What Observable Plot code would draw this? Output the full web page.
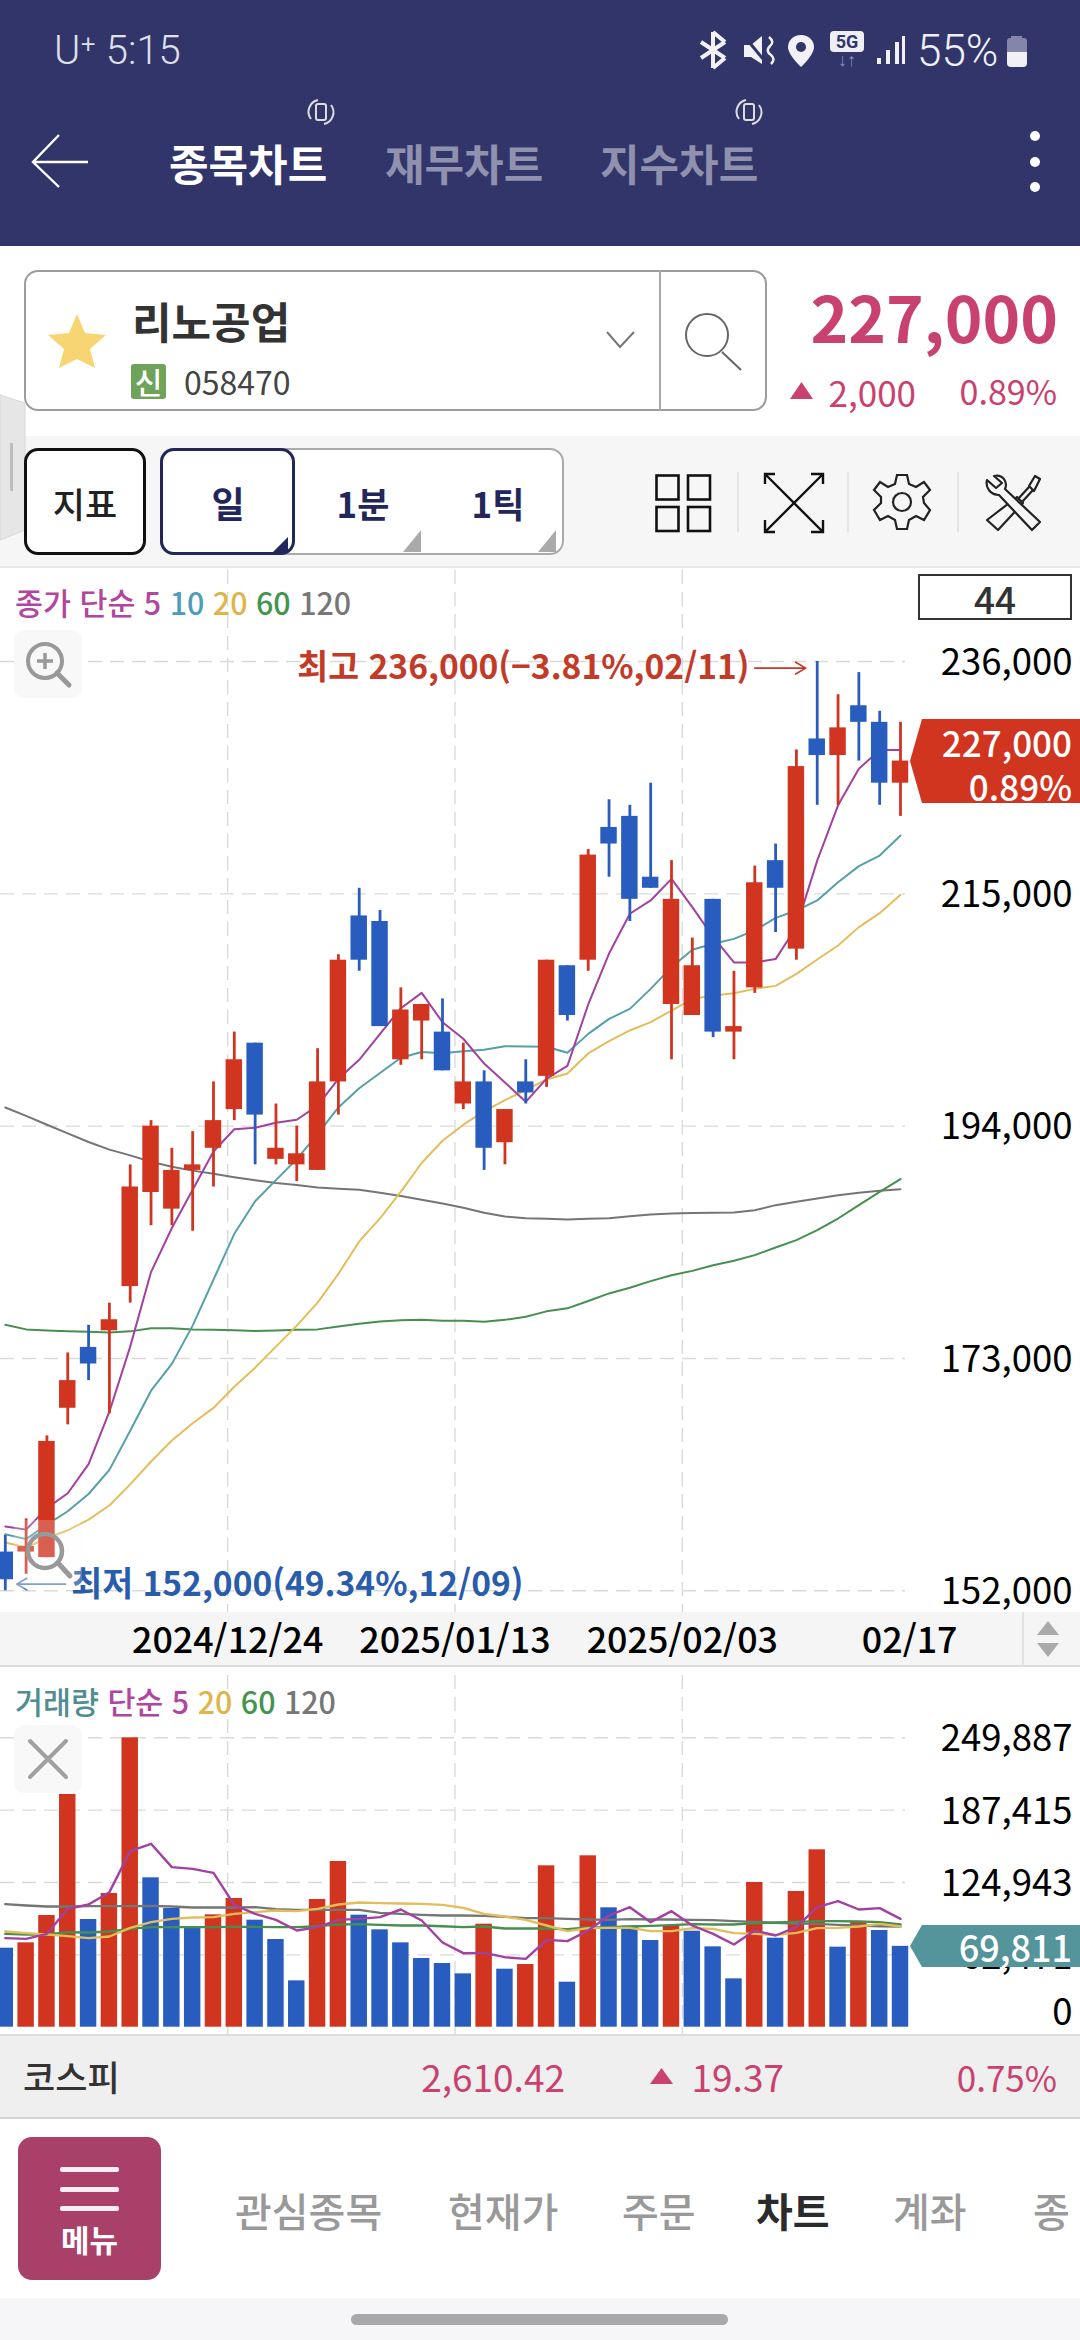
<!DOCTYPE html>
<html lang="ko">
<head>
<meta charset="utf-8">
<script src="https://cdn.jsdelivr.net/npm/d3@7"></script>
<script src="https://cdn.jsdelivr.net/npm/@observablehq/plot@0.6"></script>
<style>
html,body{margin:0;padding:0;background:#fff;}
#page{position:relative;width:1080px;height:2340px;overflow:hidden;font-family:"Noto Sans CJK KR","Noto Sans",sans-serif;background:#fff;}
.box{position:absolute;box-sizing:border-box;}
.t{position:absolute;white-space:nowrap;line-height:1;transform:translateY(-50%);}
.plot{position:absolute;left:0;}
.plot svg{display:block;overflow:visible;}
svg.ic{position:absolute;overflow:visible;}
</style>
</head>
<body>
<div id="page"></div>
<script>
// ---------- candle data (12/09 .. 02/17) ----------
const opens=[155500,155500,155000,168500,174000,175500,179500,188000,186500,190000,192000,195500,201500,191000,190500,190000,198000,213000,212500,200000,203500,202500,196000,198000,192500,198000,198500,208500,209000,221000,222000,216500,205000,204000,214500,202500,206500,218000,210000,229000,227500,232000,230500,225000];
const closes=[153000,156000,165500,171000,172500,176500,188500,194000,190000,190500,194500,200000,195000,192000,191500,198000,209000,209000,203000,204500,205000,199000,198000,192000,195500,197000,209000,204000,218500,219500,214500,215500,214500,208500,202500,203000,216000,215500,226500,227500,230000,230500,225000,227000];
const highs=[157000,158500,166000,173500,176000,178000,190500,194500,192000,193500,198000,202500,201500,196000,194000,201000,209500,215500,213500,206500,205000,205500,201500,199000,195500,200000,209000,208500,219000,223500,223000,225000,218000,211000,214500,208000,217500,219500,228000,236000,233000,235000,231500,230500];
const lows=[152000,153500,155000,167000,171000,168000,178000,185000,185000,184500,188500,194500,190500,190500,189000,190000,195000,208000,203000,199500,200000,199000,195500,190000,190500,196000,197500,203500,208000,216500,212500,215500,200000,204000,202000,200000,206000,211500,209000,223000,223000,227000,223000,222000];
// ---------- price moving averages ----------
const ma5=[157810,157530,159470,160820,163450,168190,174070,180810,184790,188250,191710,193720,193850,194300,194580,195860,198280,200000,202350,204660,206050,203400,201900,199660,197940,196200,198300,199450,205000,209600,213200,214400,216350,213800,211100,208800,208800,209100,212000,218000,223000,226300,228000,228000];
const ma10=[157120,156670,157980,159190,160750,162930,166460,170090,172510,175970,180120,184270,187210,189120,191020,193270,195690,197420,198800,200180,200700,200600,200770,200910,201220,201200,201170,200630,202340,203700,204600,206410,208370,209940,210480,210930,211690,212830,213490,214400,216050,217500,218460,220270];
const ma20=[156360,155910,156770,157470,158430,159710,161620,163690,165590,167150,168530,170440,172170,174070,175970,178050,180640,183580,185660,188080,190670,192680,194130,195340,196350,197250,198220,198760,200570,201680,202650,203400,204450,205500,205810,206020,206410,206680,207770,209060,210330,211990,213250,214910];
const ma60=[176040,175630,175520,175450,175420,175350,175450,175730,175730,175630,175590,175560,175490,175520,175590,175630,175900,176140,176350,176460,176490,176420,176420,176320,176490,176770,177260,177530,178190,178880,179390,179990,180530,180920,181430,181830,182340,183030,183700,184600,185650,186860,188060,189210];
const ma120=[195690,194930,194130,193340,192570,191880,191360,190780,190330,189980,189700,189390,189120,188870,188670,188460,188350,188250,187970,187690,187350,187000,186620,186170,185830,185680,185620,185560,185620,185680,185860,186010,186100,186140,186170,186200,186400,186860,187160,187460,187760,187970,188150,188300];
// ---------- volume ----------
const volumes=[68230,72840,96450,200950,92990,115450,249887,128980,102490,85510,97020,111130,92420,75720,40020,110270,143090,96730,84070,72840,59310,54990,46060,88960,50090,54120,139340,38870,147980,103070,87230,74850,87810,82910,69380,41750,124950,76870,117180,153160,69100,90690,83490,69811];
const volMa5=[76870,76290,80610,102200,105950,116600,152010,158350,138190,136750,133300,105660,97890,92700,83490,86370,92700,93570,95010,101630,92130,73130,63910,64200,60460,59020,75430,74280,83490,96450,103640,90690,100190,87810,80610,71400,83490,79170,86370,103640,108830,101630,102780,93570];
const volMa20=[82630,81190,80040,78600,76870,78310,85790,90690,93570,94720,95010,97890,99330,100770,100190,102200,105950,107670,107100,106810,106520,105660,103070,97890,95580,92700,87810,82920,85510,85790,85790,82920,82920,85510,84930,81190,80610,79750,81480,85510,85790,86950,89250,86950];
const volMa60=[80610,80040,80040,82050,81760,82630,84930,86370,86370,86370,86370,86660,86660,86370,86370,87230,88670,88960,88390,87810,87810,87230,86370,86950,85220,85220,85220,84640,86080,86370,86950,87520,88100,88960,88670,88670,89820,90400,90980,91550,91550,91260,90690,88670];
const volMa120=[106240,105080,104220,104220,104510,104510,104510,104800,104220,103360,103360,103360,103640,101920,101340,101340,101340,101340,98750,97890,97020,96450,96450,96160,95290,94140,94140,93570,92990,92700,93280,92990,92990,92700,92420,91550,90980,90110,89540,89250,88390,87810,87230,86950];
// ---------- axes ----------
const priceTicks=[236000,215000,194000,173000,152000];
const volumeTicks=[249887,187415,124943,62471];
const volumeZero=[0];
const gridKs=[10.68,21.6,32.52];
const dateTickKs=[10.68,21.6,32.52,43.44];
const dateLabels=["2024/12/24","2025/01/13","2025/02/03","02/17"];
const highNote=[{k:35.75,p:235400,label:"최고 236,000(−3.81%,02/11)"}];
const highArrow=[{a:36.0,b:38.45,p:235400}];
const lowNote=[{k:3.17,p:152500,label:"최저 152,000(49.34%,12/09)"}];
const lowArrow=[{a:2.9,b:0.55,p:152600}];

const RED="#d1341f",BLUE="#295cbf";
const cPurple="#a2419f",cTeal="#55a0a8",cYellow="#e2bd5a",cGreen="#478f4f",cGray="#757575";
const FONT='"Noto Sans CJK KR","Noto Sans",sans-serif';
const candles=opens.map((o,i)=>({k:i,o,c:closes[i],h:highs[i],l:lows[i],up:closes[i]>=o}));
const vols=volumes.map((v,i)=>({k:i,v,up:i>0&&v>volumes[i-1]}));
const HW=0.395;
const line=(arr,stroke,w=2)=>Plot.line(arr,{x:(d,i)=>i,y:d=>d,stroke,strokeWidth:w});
const grid={stroke:"#dadada",strokeWidth:1.4,strokeDasharray:"14 8"};

const page=document.getElementById("page");
function box(x,y,w,h,css=""){const d=document.createElement("div");d.className="box";d.style.cssText=`left:${x}px;top:${y}px;width:${w}px;height:${h}px;${css}`;page.appendChild(d);return d;}
function txt(s,x,y,size,color,weight=400,anchor="left",extra=""){const d=document.createElement("div");d.className="t";d.textContent=s;
 const pos=anchor==="right"?`right:${1080-x}px;`:anchor==="center"?`left:${x}px;transform:translate(-50%,-50%);`:`left:${x}px;`;
 d.style.cssText=`${pos}top:${y}px;font-size:${size}px;color:${color};font-weight:${weight};${extra}`;page.appendChild(d);return d;}
function icon(x,y,w,h,inner){const d=document.createElement("div");d.innerHTML=`<svg class="ic" style="left:${x}px;top:${y}px" width="${w}" height="${h}" viewBox="0 0 ${w} ${h}">${inner}</svg>`;page.appendChild(d.firstChild);}

// ---------- header ----------
box(0,0,1080,246,"background:#32356a");
txt("U⁺ 5:15",54,51,40,"#dfe0ea",300,"left",'font-family:Roboto;');
icon(698,30,32,40,`<g stroke="#f2f2f6" stroke-width="4" fill="none"><path d="M3 12 L27 28 M3 28 L27 12 M15 2 V38 M15 2 L27 12 M15 38 L27 28"/></g>`);
icon(742,33,36,36,`<path d="M2 12 H9 L20 3 V31 L9 24 H2Z" fill="#f2f2f6"/><path d="M2 3 L26 32" stroke="#32356a" stroke-width="3"/><path d="M27 4 q6 5 1 9 q-5 5 1 9 q5 4 0 9" stroke="#f2f2f6" stroke-width="2.5" fill="none"/>`);
icon(788,35,26,32,`<path d="M13 0 C5 0 0 6 0 12 C0 20 13 32 13 32 C13 32 26 20 26 12 C26 6 21 0 13 0Z" fill="#f2f2f6"/><circle cx="13" cy="12" r="5" fill="#32356a"/>`);
box(830,31,34,21,"background:#eeeef4;border-radius:4px");
txt("5G",847,42,18,"#32356a",700,"center",'font-family:Roboto;');
txt("↓↑",847,60,18,"#8a8db8",400,"center",'font-family:Roboto;');
icon(875,35,32,30,`<g fill="#f0f0f5"><rect x="2" y="23" width="4" height="6"/><rect x="11" y="15" width="4" height="14"/><rect x="20" y="7" width="4" height="22"/><rect x="27" y="1" width="3" height="28"/></g>`);
txt("55%",917,51,44,"#f0f0f5",300,"left",'font-family:Roboto;');
box(1011,36,11,3,"background:#8485a8");
box(1007,38,20,14,"background:#8485a8;border-radius:3px 3px 0 0");
box(1007,52,20,15,"background:#f0f0f5;border-radius:0 0 4px 4px");
icon(31,135,60,54,`<path d="M28 0 L2 27 L28 52 M2 27 H57" fill="none" stroke="#fff" stroke-width="2.4"/>`);
txt("종목차트",169,162,43,"#fff",700);
txt("재무차트",385,162,43,"#8f91ae",700);
txt("지수차트",600,162,43,"#8f91ae",700);
[321,749].forEach(cx=>{icon(cx-15,97,30,30,`<rect x="10" y="7" width="10" height="16" rx="2" fill="none" stroke="#ddd" stroke-width="2"/><path d="M5 22 A12 12 0 0 1 12 3 M25 8 A12 12 0 0 1 18 27" fill="none" stroke="#ddd" stroke-width="2"/>`);});
[136,162,187].forEach(cy=>box(1030,cy-5,10,10,"background:#fff;border-radius:50%"));

// ---------- stock box ----------
box(24,270,743,141,"border:2.5px solid #9c9c9c;border-radius:14px;background:#fff");
box(659,270,2,141,"background:#a8a8a8");
icon(47,313,60,56,`<path d="M30 1 L38 20 L59 22 L43 36 L48 55 L30 46 L12 55 L17 36 L1 22 L22 20Z" fill="#f6d572"/>`);
txt("리노공업",132,320,43,"#333",700);
box(131,364,35,35,"background:#6fa35a;border-radius:3px");
txt("신",148.5,381,30,"#fff",500,"center");
txt("058470",184,381,32,"#444",400);
icon(606,331,30,17,`<path d="M1 1 L14 16 L28 1" fill="none" stroke="#777" stroke-width="2"/>`);
icon(684,312,60,60,`<circle cx="23" cy="23" r="21" fill="none" stroke="#666" stroke-width="2"/><path d="M38 40 L57 58" stroke="#666" stroke-width="2"/>`);
txt("227,000",1058,315,64,"#c9416e",700,"right");
icon(790,382,23,17,`<path d="M11.5 0 L23 17 H0Z" fill="#c9416e"/>`);
txt("2,000",916,391,35,"#c9416e",400,"right");
txt("0.89%",1057,391,34,"#c9416e",400,"right");

// ---------- toolbar ----------
box(0,436,1080,132,"background:#f6f6f7;border-bottom:2px solid #e8e8e8");
const h=document.createElement("div");h.innerHTML=`<svg class="ic" style="left:0;top:395px" width="26" height="146"><path d="M0 0 L25 8 V135 L0 145Z" fill="#e6e6e6" stroke="#d8d8d8"/><rect x="10" y="48" width="3" height="48" fill="#bdbdbd"/></svg>`;page.appendChild(h.firstChild);
box(24,448,122,107,"border:3px solid #111;border-radius:14px;background:#fff");
txt("지표",85,502,35,"#222",500,"center");
box(160,448,404,107,"border:2.5px solid #aaa;border-radius:14px;background:#fff");
box(160,448,135,107,"border:3.5px solid #22265a;border-radius:14px;background:#fff");
txt("일",228,502,36,"#22265a",700,"center");
txt("1분",363,502,35,"#22265a",700,"center");
txt("1틱",498,502,35,"#22265a",700,"center");
icon(273,537,15,15,`<path d="M15 0 V15 H0Z" fill="#22265a"/>`);
icon(403,530,18,22,`<path d="M18 0 V22 H0Z" fill="#aaa"/>`);
icon(538,530,18,22,`<path d="M18 0 V22 H0Z" fill="#aaa"/>`);
icon(655,474,58,60,`<g fill="none" stroke="#111" stroke-width="2.6"><rect x="1.5" y="1.5" width="22" height="24"/><rect x="33" y="1.5" width="22" height="24"/><rect x="1.5" y="33" width="22" height="24"/><rect x="33" y="33" width="22" height="24"/></g>`);
icon(763,472,62,62,`<g fill="none" stroke="#111" stroke-width="2.4"><path d="M12 2 H2 V12 M48 2 H60 V12 M2 48 V60 H12 M60 48 V60 H48 M2 2 L60 60 M60 2 L2 60"/></g>`);
icon(874,474,56,56,`<g fill="none" stroke="#222" stroke-width="2.2"><path d="M23 1 H33 L35 10 L42 13 L50 8 L56 16 L49 23 L50 29 L56 36 L50 46 L42 42 L35 46 L33 55 H23 L21 46 L14 42 L6 46 L0 36 L7 29 L7 23 L0 16 L6 8 L14 13 L21 10Z"/><circle cx="28" cy="28" r="9"/></g>`);
icon(985,475,56,56,`<g fill="#f6f6f7" stroke="#222" stroke-width="2.2" stroke-linejoin="round"><path d="M32 22 L38 28 L13 55 L2 45Z"/><path d="M44 12 L33 24 M48 15 L37 27" fill="none"/><path d="M44 11 L50 1 L55 4 L49 16Z"/><path d="M14 20 C6 20 0 13 2 5 L11 13 L17 8 L9 1 C18 -1 23 7 20 14 L55 47 L47 55Z"/></g>`);
[737,847,957].forEach(x=>box(x,472,1.5,60,"background:#e4e4e4"));

// ---------- price + volume backgrounds ----------
box(0,1612,1080,55,"background:#f5f5f5;border-bottom:2px solid #dcdcdc");
box(1022,1612,2,55,"background:#e2e2e2");
icon(1037,1621,22,36,`<path d="M11 0 L22 14 H0Z M0 22 H22 L11 36Z" fill="#aaa"/>`);

// ---------- price chart ----------
const priceTop=570, volTop=1667;
const priceChart=Plot.plot({
 width:1080,height:1097,marginLeft:0,marginRight:175,marginTop:0,marginBottom:55,
 style:{background:"transparent",fontFamily:FONT,overflow:"visible"},
 x:{domain:[0,43],range:[4.8,900],label:null},
 y:{domain:[152000,236000],range:[1590.3-priceTop,661-priceTop],label:null},
 marks:[
  Plot.ruleY(priceTicks,grid),
  Plot.ruleX(gridKs,grid),
  line(ma120,cGray),line(ma60,cGreen),line(ma20,cYellow),line(ma10,cTeal),line(ma5,cPurple),
  Plot.ruleX(candles,{filter:d=>d.up,x:"k",y1:"l",y2:"h",stroke:RED,strokeWidth:2.8}),
  Plot.ruleX(candles,{filter:d=>!d.up,x:"k",y1:"l",y2:"h",stroke:BLUE,strokeWidth:2.8}),
  Plot.rect(candles,{filter:d=>d.up,x1:d=>d.k-HW,x2:d=>d.k+HW,y1:"o",y2:"c",fill:RED}),
  Plot.rect(candles,{filter:d=>!d.up,x1:d=>d.k-HW,x2:d=>d.k+HW,y1:"o",y2:"c",fill:BLUE}),
  Plot.axisY({ticks:priceTicks,anchor:"right",tickSize:0,tickPadding:167,textAnchor:"end",tickFormat:d3.format(","),fontSize:36.5,dy:1.5,fill:"#000",label:null}),
  Plot.axisX({ticks:dateTickKs,anchor:"bottom",tickSize:0,tickPadding:29,lineAnchor:"middle",tickFormat:d=>dateLabels[dateTickKs.indexOf(d)],fontSize:35.8,fontWeight:500,fill:"#000",label:null}),
  Plot.text(highNote,{x:"k",y:"p",text:"label",textAnchor:"end",fontSize:33.6,fontWeight:600,fill:"#c23a28"}),
  Plot.arrow(highArrow,{x1:"a",x2:"b",y1:"p",y2:"p",stroke:"#c23a28",strokeWidth:1.6,headLength:11,bend:0}),
  Plot.text(lowNote,{x:"k",y:"p",text:"label",textAnchor:"start",fontSize:33.6,fontWeight:600,fill:"#2a5cac"}),
  Plot.arrow(lowArrow,{x1:"a",x2:"b",y1:"p",y2:"p",stroke:"#5f86c8",strokeWidth:1.6,headLength:11,bend:0})
 ]
});
const pw=document.createElement("div");pw.className="plot";pw.style.top=priceTop+"px";pw.appendChild(priceChart);page.appendChild(pw);

// ---------- volume chart ----------
const volumeChart=Plot.plot({
 width:1080,height:367,marginLeft:0,marginRight:175,marginTop:8,marginBottom:0,
 style:{background:"transparent",fontFamily:FONT,overflow:"visible"},
 x:{domain:[0,43],range:[4.8,900],axis:null},
 y:{domain:[0,249887],range:[2026.7-volTop,1737.3-volTop],label:null},
 marks:[
  Plot.ruleY(volumeTicks,grid),
  Plot.ruleX(gridKs,grid),
  Plot.rect(vols,{filter:d=>d.up,x1:d=>d.k-HW,x2:d=>d.k+HW,y1:()=>0,y2:"v",fill:RED}),
  Plot.rect(vols,{filter:d=>!d.up,x1:d=>d.k-HW,x2:d=>d.k+HW,y1:()=>0,y2:"v",fill:BLUE}),
  line(volMa120,cGray,2.4),line(volMa60,cGreen,2.4),line(volMa20,cYellow,2.4),line(volMa5,cPurple,2.4),
  Plot.axisY({ticks:volumeTicks,anchor:"right",tickSize:0,tickPadding:167,textAnchor:"end",tickFormat:d3.format(","),fontSize:36.5,dy:2,fill:"#000",label:null}),
  Plot.axisY({ticks:volumeZero,anchor:"right",tickSize:0,tickPadding:167,textAnchor:"end",tickFormat:d3.format(","),fontSize:36.5,dy:-14,fill:"#000",label:null})
 ]
});
const vw=document.createElement("div");vw.className="plot";vw.style.top=volTop+"px";vw.appendChild(volumeChart);page.appendChild(vw);

// ---------- chart overlays ----------
const leg=(items,y)=>{const d=document.createElement("div");d.className="t";d.style.cssText=`left:15px;top:${y}px;font-size:30.4px;font-weight:500;`;
 items.forEach(([s,c])=>{const sp=document.createElement("span");sp.textContent=s+" ";sp.style.color=c;d.appendChild(sp);});page.appendChild(d);};
leg([["종가 단순 5","#b2459f"],["10","#4d9dba"],["20","#deb54b"],["60","#43944f"],["120","#777"]],602);
leg([["거래량","#4f8d92"],["단순 5","#b2459f"],["20","#deb54b"],["60","#43944f"],["120","#777"]],1701);
box(14,630,68,68,"background:#f8f8f8;border-radius:10px");
icon(24,640,50,50,`<circle cx="21" cy="21" r="17" fill="none" stroke="#999" stroke-width="4"/><path d="M33 33 L45 45" stroke="#999" stroke-width="5" stroke-linecap="round"/><path d="M21 13 V29 M13 21 H29" stroke="#999" stroke-width="3.5"/>`);
box(14,1725,68,68,"background:#f8f8f8;border-radius:10px");
icon(28,1739,40,40,`<path d="M2 2 L38 38 M38 2 L2 38" stroke="#a0a0a0" stroke-width="4" stroke-linecap="round"/>`);
box(14,1520,68,68,"background:rgba(250,250,250,.22);border-radius:8px");
icon(26,1532,48,48,`<circle cx="19" cy="19" r="17" fill="none" stroke="#999" stroke-width="4.5"/><path d="M33 32 L44 44" stroke="#999" stroke-width="5" stroke-linecap="round"/>`);
box(918,574,154,46,"border:2px solid #333;background:#fff");
txt("44",995,598,37,"#333",500,"center");
box(910,719,170,84,"background:#d1341f;clip-path:polygon(12px 0,100% 0,100% 100%,12px 100%,0 50%)");
txt("227,000",1072,741,35,"#fff",500,"right");
txt("0.89%",1072,785,35,"#fff",500,"right");
box(910,1925,170,42,"background:#53959b;clip-path:polygon(12px 0,100% 0,100% 100%,12px 100%,0 50%)");
txt("69,811",1072,1946,36,"#fff",500,"right");

// ---------- footer ----------
box(0,2034,1080,85,"background:#efefef;border-top:2px solid #ddd;border-bottom:2px solid #d4d4d4");
txt("코스피",23,2075,35,"#333",500);
txt("2,610.42",565,2076,37,"#c9416e",400,"right");
icon(650,2068,23,16,`<path d="M11.5 0 L23 16 H0Z" fill="#c9416e"/>`);
txt("19.37",784,2076,37,"#c9416e",400,"right");
txt("0.75%",1057,2076,35,"#c9416e",400,"right");
box(18,2137,143,143,"background:#a8406a;border-radius:14px");
[2169,2189,2208].forEach(y=>box(60,y-2.5,59,5,"background:#fbeef3;border-radius:2px"));
txt("메뉴",89.5,2238,31,"#fff",700,"center");
const nav=[["관심종목",235,"#999",500],["현재가",448,"#999",500],["주문",622,"#999",500],["차트",756,"#2b2b2b",700],["계좌",893,"#999",500],["종",1033,"#999",500]];
nav.forEach(([s,x,c,w])=>txt(s,x,2210,40,c,w));
box(0,2298,1080,42,"background:#f6f6f8");
box(351,2314,377,11,"background:#a8a8aa;border-radius:6px");
</script>
</body>
</html>
